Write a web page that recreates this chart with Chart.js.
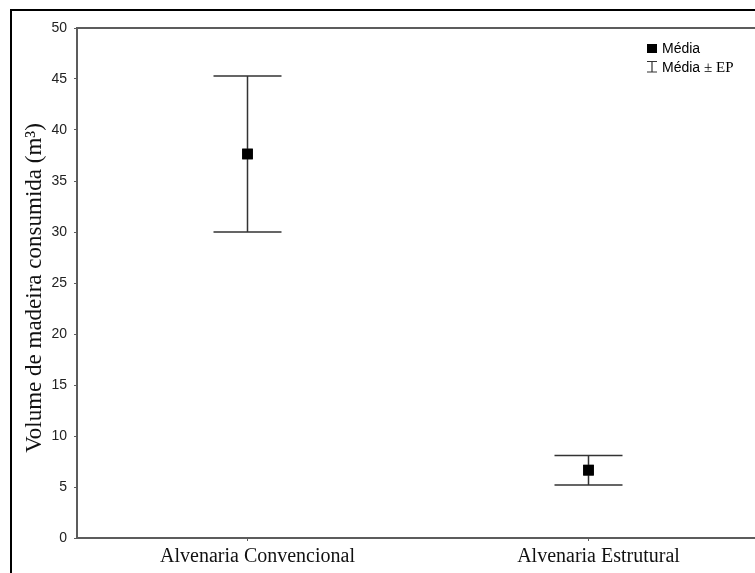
<!DOCTYPE html>
<html>
<head>
<meta charset="utf-8">
<script src="https://cdn.jsdelivr.net/npm/chart.js@4"></script>
<style>
    html, body { margin: 0; padding: 0; background: #fff; overflow: hidden; }
    #wrap { width: 780px; height: 573px; }
</style>
</head>
<body>
<div id="wrap"><canvas id="chart"></canvas></div>
<script>
const categories = ['Alvenaria Convencional', 'Alvenaria Estrutural'];
const means = [37.65, 6.65];
const upper = [45.3, 8.1];
const lower = [30.0, 5.2];
const yTicks = [0, 5, 10, 15, 20, 25, 30, 35, 40, 45, 50];
const yTitle = 'Volume de madeira consumida (m³)';

const frameColor = '#5c5c5c';
const serif = '"Liberation Serif", "Times New Roman", serif';
const sans = '"Liberation Sans", Arial, sans-serif';

// cadre extérieur noir + cadre gris du graphique
const framePlugin = {
    id: 'frames',
    beforeDraw(chart) {
        const ctx = chart.ctx;
        const a = chart.chartArea;
        ctx.save();
        ctx.fillStyle = '#fff';
        ctx.fillRect(0, 0, chart.width, chart.height);
        ctx.strokeStyle = '#000';
        ctx.lineWidth = 2;
        ctx.strokeRect(11, 10, 900, 700);
        ctx.strokeStyle = frameColor;
        ctx.lineWidth = 2;
        ctx.strokeRect(a.left, a.top, a.right - a.left, a.bottom - a.top);
        ctx.restore();
    }
};

// barres d'erreur (moyenne ± EP)
const errorBarPlugin = {
    id: 'errorBars',
    afterDatasetsDraw(chart) {
        const ctx = chart.ctx;
        const x = chart.scales.x;
        const y = chart.scales.y;
        const cap = 34;
        ctx.save();
        ctx.strokeStyle = '#333';
        ctx.lineWidth = 1.5;
        categories.forEach((c, i) => {
            const px = x.getPixelForValue(i);
            const top = y.getPixelForValue(upper[i]);
            const bot = y.getPixelForValue(lower[i]);
            ctx.beginPath();
            ctx.moveTo(px, top);
            ctx.lineTo(px, bot);
            ctx.moveTo(px - cap, top);
            ctx.lineTo(px + cap, top);
            ctx.moveTo(px - cap, bot);
            ctx.lineTo(px + cap, bot);
            ctx.stroke();
        });
        // redessine les points par-dessus
        const meta = chart.getDatasetMeta(0);
        meta.data.forEach(p => p.draw(ctx));
        ctx.restore();
    }
};

// légende en haut à droite + titre de l'axe Y
const legendPlugin = {
    id: 'customLegend',
    afterDraw(chart) {
        const ctx = chart.ctx;
        const a = chart.chartArea;
        ctx.save();
        ctx.fillStyle = '#000';
        ctx.fillRect(647, 44, 10, 9);
        ctx.strokeStyle = '#333';
        ctx.lineWidth = 1.2;
        ctx.beginPath();
        ctx.moveTo(647, 61.5); ctx.lineTo(657, 61.5);
        ctx.moveTo(652, 61.5); ctx.lineTo(652, 72);
        ctx.moveTo(647, 72); ctx.lineTo(657, 72);
        ctx.stroke();
        ctx.textBaseline = 'alphabetic';
        ctx.font = '14px ' + sans;
        ctx.fillText('Média', 662, 53);
        ctx.fillText('Média', 662, 72);
        const w = ctx.measureText('Média ').width;
        ctx.font = '15px ' + serif;
        ctx.fillText('± EP', 662 + w, 72);

        // titre Y
        ctx.fillStyle = '#111';
        ctx.font = '23px ' + serif;
        ctx.textAlign = 'center';
        ctx.translate(41, (a.top + a.bottom) / 2 + 5);
        ctx.rotate(-Math.PI / 2);
        ctx.fillText(yTitle, 0, 0);
        ctx.restore();
    }
};

new Chart(document.getElementById('chart'), {
    type: 'line',
    data: {
        labels: categories,
        datasets: [{
            label: 'Média',
            data: means,
            showLine: false,
            pointStyle: 'rect',
            pointRadius: 7.5,
            pointBackgroundColor: '#000',
            pointBorderColor: '#000',
            pointBorderWidth: 0
        }]
    },
    options: {
        responsive: true,
        maintainAspectRatio: false,
        animation: false,
        layout: { padding: { left: 10, top: 28, right: 21, bottom: 0 } },
        plugins: {
            legend: { display: false },
            tooltip: { enabled: false }
        },
        scales: {
            x: {
                type: 'category',
                offset: true,
                border: { display: false },
                grid: { drawOnChartArea: false, tickLength: 3, color: frameColor },
                ticks: {
                    color: '#111',
                    padding: 4,
                    labelOffset: 10,
                    font: { family: serif, size: 20 }
                },
                afterFit: s => { s.height = 35; }
            },
            y: {
                min: 0,
                max: 50,
                afterBuildTicks: s => { s.ticks = yTicks.map(v => ({ value: v })); },
                border: { display: false },
                grid: { drawOnChartArea: false, tickLength: 3, color: frameColor },
                ticks: {
                    color: '#222',
                    padding: 7,
                    font: { family: sans, size: 14 }
                },
                afterFit: s => { s.width = 67; }
            }
        }
    },
    plugins: [framePlugin, errorBarPlugin, legendPlugin]
});
</script>
</body>
</html>
